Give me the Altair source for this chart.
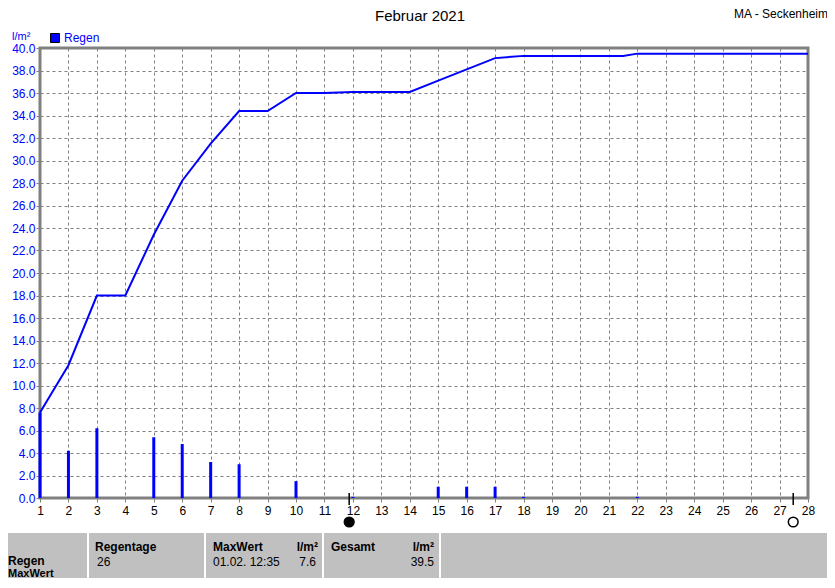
import altair as alt
import pandas as pd

# ---------------- data ----------------
days = [1, 2, 3, 5, 6, 7, 8, 10, 12, 15, 16, 17, 18, 22]
rain = [7.6, 4.2, 6.2, 5.4, 4.8, 3.2, 3.0, 1.5, 0.1, 1.0, 1.0, 1.0, 0.1, 0.1]

sum_x = [1, 2, 3, 4, 5, 6, 7, 8, 9, 10, 11, 11.5, 12, 13, 14, 15, 16, 17, 18, 21.5, 22, 28]
sum_y = [7.6, 11.8, 18.0, 18.0, 23.4, 28.2, 31.5, 34.4, 34.4, 36.0, 36.0, 36.05, 36.1, 36.1,
         36.1, 37.1, 38.1, 39.1, 39.3, 39.3, 39.5, 39.5]

moon_x = [11.87, 27.48]
moon_phase = ["Neumond", "Vollmond"]

x_ticks = list(range(1, 29))
y_ticks = [0, 2, 4, 6, 8, 10, 12, 14, 16, 18, 20, 22, 24, 26, 28, 30, 32, 34, 36, 38, 40]

title_text = "Februar 2021"
station_text = "MA - Seckenheim"
unit_text = "l/m²"
legend_text = "Regen"

row_labels = ["Regen", "MaxWert"]
hdr_regentage = "Regentage"
val_regentage = "26"
hdr_maxwert = "MaxWert"
val_maxwert_time = "01.02.  12:35"
val_maxwert = "7.6"
hdr_gesamt = "Gesamt"
val_gesamt = "39.5"

BLUE = "#0000FF"
GREY = "#808080"
FONT = "Liberation Sans"

W, H = 768, 450

xscale = alt.Scale(domain=[1, 28], nice=False, zero=False, padding=0)
yscale = alt.Scale(domain=[0, 40], nice=False, padding=0)

bars_df = pd.DataFrame({"day": days, "rain": rain})
line_df = pd.DataFrame({"day": sum_x, "sum": sum_y})
moon_df = pd.DataFrame({"day": moon_x, "phase": moon_phase})

x_axis = alt.Axis(values=x_ticks, title=None, grid=True, gridDash=[3, 3], gridColor=GREY,
                  gridWidth=1, domain=False, tickColor=GREY, tickSize=4, labelPadding=3,
                  labelFont=FONT, labelFontSize=12, labelColor="black", labelFlush=False,
                  labelOverlap=False, labelSeparation=0, format="d")
y_axis = alt.Axis(values=y_ticks, title=None, grid=True, gridDash=[3, 3], gridColor=GREY,
                  gridWidth=1, domain=False, tickColor=GREY, tickSize=4, labelPadding=1,
                  labelFont=FONT, labelFontSize=12, labelColor=BLUE, format=".1f",
                  labelFlush=False, labelOverlap=False, labelSeparation=0)

X = alt.X("day:Q", scale=xscale, axis=x_axis)

bars = alt.Chart(bars_df).mark_bar(size=3, color=BLUE).encode(
    x=X,
    y=alt.Y("rain:Q", scale=yscale, axis=y_axis),
)

line = alt.Chart(line_df).mark_line(color=BLUE, strokeWidth=2).encode(
    x=X,
    y=alt.Y("sum:Q", scale=yscale, axis=y_axis),
)

moon_tick = alt.Chart(moon_df).mark_rule(color="black", strokeWidth=1.5).encode(
    x=X,
    y=alt.value(445), y2=alt.value(457),
)
moon_dot = alt.Chart(moon_df).mark_point(shape="circle", filled=True, size=95,
                                         stroke="black", strokeWidth=1.5, opacity=1).encode(
    x=X,
    y=alt.value(474),
    fill=alt.Fill("phase:N", scale=alt.Scale(domain=["Neumond", "Vollmond"],
                                             range=["black", "white"]), legend=None),
)


def text(s, x, y, size=12, color="black", bold=False, align="left", baseline="middle"):
    return alt.Chart(pd.DataFrame({"t": [s]})).mark_text(
        font=FONT, fontSize=size, color=color, fontWeight="bold" if bold else "normal",
        align=align, baseline=baseline,
    ).encode(text="t:N", x=alt.value(x), y=alt.value(y))


# info panel at the bottom
panel = alt.Chart(pd.DataFrame({"a": [0]})).mark_rect(color="#C0C0C0").encode(
    x=alt.value(-32), x2=alt.value(787), y=alt.value(485), y2=alt.value(530)
)
seps = [
    alt.Chart(pd.DataFrame({"a": [0]})).mark_rule(color="white", strokeWidth=2).encode(
        x=alt.value(sx), y=alt.value(485), y2=alt.value(530)
    )
    for sx in [48, 165, 283, 400]
]

legend_box = alt.Chart(pd.DataFrame({"a": [0]})).mark_rect(
    color=BLUE, stroke="black", strokeWidth=1
).encode(x=alt.value(10.5), x2=alt.value(19.5), y=alt.value(-14.5), y2=alt.value(-5.5))

layers = [
    panel, *seps,
    bars, line, moon_tick, moon_dot, legend_box,
    text(title_text, 380, -32, size=15, align="center"),
    text(station_text, 788, -34, size=12, align="right"),
    text(unit_text, -28, -11, size=11, color=BLUE),
    text(legend_text, 24, -10, size=12, color=BLUE),
    text(row_labels[0], -32, 513, bold=True),
    text(row_labels[1], -32, 526, size=11, bold=True),
    text(hdr_regentage, 55, 499, bold=True),
    text(val_regentage, 57, 514),
    text(hdr_maxwert, 173, 499, bold=True),
    text(unit_text, 278, 499, bold=True, align="right"),
    text(val_maxwert_time, 173, 514),
    text(val_maxwert, 276, 514, align="right"),
    text(hdr_gesamt, 291, 499, bold=True),
    text(unit_text, 394, 499, bold=True, align="right"),
    text(val_gesamt, 394, 514, align="right"),
]

chart = alt.layer(*layers).properties(
    width=W, height=H,
    padding={"left": 32, "top": 40, "right": 19, "bottom": 82},
    autosize=alt.AutoSizeParams(type="none"),
    background="white",
).configure_view(stroke=GREY, strokeWidth=3).configure_axis(labelOverlap=False)

chart.save("out.html", embed_options={"renderer": "svg", "actions": False})
